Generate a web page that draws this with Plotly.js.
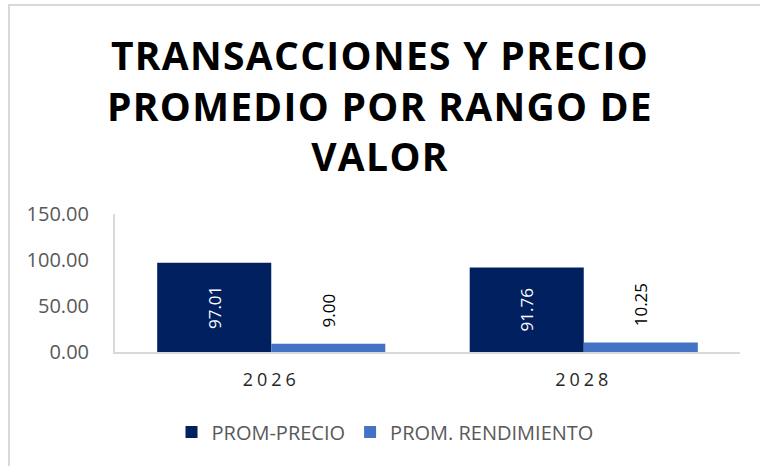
<!DOCTYPE html>
<html>
<head>
<meta charset="utf-8">
<script src="https://cdn.plot.ly/plotly-3.0.1.min.js"></script>
<style>
  html, body { margin: 0; padding: 0; background: #fff; }
  #frame { position: absolute; left: 8px; top: 4px; width: 760px; height: 470px;
           border-left: 2px solid #d9d9d9; border-top: 2px solid #d9d9d9; pointer-events: none; z-index: 5; }
  #chart { position: absolute; left: 0; top: 0; width: 760px; height: 466px; }
  .gtitle { letter-spacing: 1.3px; }
  .xtick text { letter-spacing: 4px; }
</style>
</head>
<body>
<div id="chart"></div>
<div id="frame"></div>
<script>
const categories = ["2026", "2028"];
const promPrecio = [97.01, 91.76];
const promRendimiento = [9.00, 10.25];
const seriesNames = ["PROM-PRECIO", "PROM. RENDIMIENTO"];
const yTicks = [0, 50, 100, 150];

const traces = [
  {
    type: "bar", name: seriesNames[0], x: categories, y: promPrecio,
    marker: { color: "#002060" },
    texttemplate: "%{y:.2f}", textposition: "inside", textangle: -90,
    insidetextanchor: "middle", constraintext: "none",
    textfont: { family: "Open Sans, sans-serif", size: 17, color: "#ffffff" },
    hoverinfo: "none"
  },
  {
    type: "bar", name: seriesNames[1], x: categories, y: promRendimiento,
    marker: { color: "#4472C4" },
    texttemplate: "\u00a0\u00a0\u00a0%{y:.2f}", textposition: "outside", textangle: -90,
    constraintext: "none", cliponaxis: false,
    textfont: { family: "Open Sans, sans-serif", size: 17, color: "#000000" },
    hoverinfo: "none"
  }
];

const layout = {
  width: 760, height: 466,
  paper_bgcolor: "rgba(0,0,0,0)", plot_bgcolor: "rgba(0,0,0,0)",
  margin: { l: 115, r: 20, t: 214, b: 114 },
  barmode: "group", bargap: 0.27, bargroupgap: 0,
  title: {
    text: "<b>TRANSACCIONES Y PRECIO<br>PROMEDIO POR RANGO DE<br>VALOR</b>",
    font: { family: "Open Sans, sans-serif", size: 39, color: "#000000" },
    x: 0.5, xref: "container", xanchor: "center",
    y: 1 - 70 / 466, yref: "container", yanchor: "middle"
  },
  xaxis: {
    type: "category", showgrid: false, zeroline: false,
    showline: true, linecolor: "#d9d9d9", linewidth: 2,
    ticks: "", tickfont: { family: "Open Sans, sans-serif", size: 18, color: "#262626" },
    ticklabelstandoff: 10
  },
  yaxis: {
    range: [0, 150], tickvals: yTicks, tickformat: ".2f",
    showgrid: false, zeroline: false,
    showline: true, linecolor: "#d9d9d9", linewidth: 2,
    ticks: "", ticklabelstandoff: 20,
    tickfont: { family: "Open Sans, sans-serif", size: 20, color: "#595959" }
  },
  legend: {
    orientation: "h", xref: "container", yref: "container",
    x: 385 / 760, xanchor: "center", y: 1 - 432 / 466, yanchor: "middle",
    font: { family: "Open Sans, sans-serif", size: 20, color: "#595959" },
    itemwidth: 30, tracegroupgap: 0
  },
  showlegend: true
};

Plotly.newPlot("chart", traces, layout, { displayModeBar: false, staticPlot: true });
</script>
</body>
</html>
